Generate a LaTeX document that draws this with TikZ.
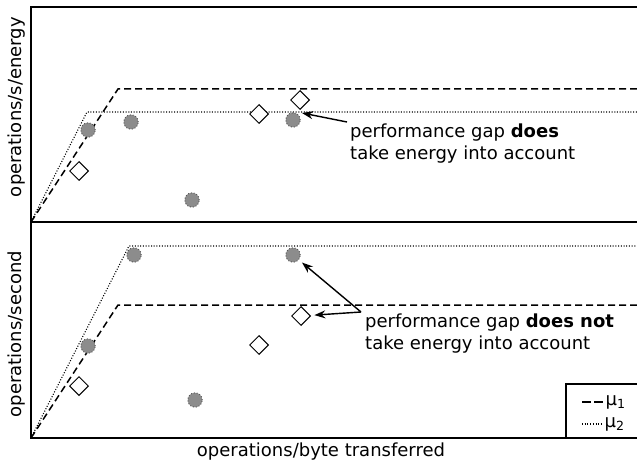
\documentclass[tikz,border=0pt]{standalone}
\usepackage{fontspec}
\setmainfont{DejaVu Sans}
\usetikzlibrary{arrows.meta,positioning,shapes.geometric}
\definecolor{ptfill}{HTML}{8C8C8C}
\definecolor{ptline}{HTML}{505050}

\begin{document}
\begin{tikzpicture}[x=1pt, y=-1pt, font=\fontsize{18}{21.7}\selectfont,
    frame/.style={line width=1.4pt},
    roofA/.style={line width=1.5pt, dash pattern=on 7pt off 4pt},
    roofB/.style={line width=1.1pt, dash pattern=on 1pt off 1.7pt},
    pt/.style={circle, fill=ptfill, draw=ptline, dotted, line width=0.9pt,
      minimum size=14.5pt, inner sep=0pt},
    dm/.style={diamond, draw, fill=white, line width=1pt,
      minimum size=19pt, inner sep=0pt},
    note/.style={align=left, inner sep=0pt, anchor=north west},
    gap/.style={-{Stealth[length=11pt,width=8pt]}, line width=1.4pt, shorten >=4pt}]
  \useasboundingbox (0,0) rectangle (637,465);

  % axes of both panels
  \draw[frame] (640,7) -- (31,7) -- (31,438) -- (640,438);
  \draw[frame] (31,222) -- (640,222);

  % rooflines, upper panel
  \draw[roofA] (31,222) -- (118,89) -- (640,89);
  \draw[roofB] (31,222) -- (87,112) -- (640,112);
  % rooflines, lower panel
  \draw[roofA] (31,438) -- (118,305) -- (640,305);
  \draw[roofB] (31,438) -- (129,246) -- (640,246);

  % measured points, upper panel
  \node[pt] (ua) at (88,130) {};
  \node[pt] (ub) at (131,122) {};
  \node[pt] (uc) at (192,200) {};
  \node[pt] (ud) at (293,120) {};
  \node[dm] (ue) at (79,171) {};
  \node[dm] (uf) at (259,114) {};
  \node[dm] (ug) at (300,100) {};
  \coordinate (ugap) at (302,113);

  % measured points, lower panel
  \node[pt] (la) at (88,346) {};
  \node[pt] (lb) at (134,255) {};
  \node[pt] (lc) at (195,400) {};
  \node[pt] (ld) at (293,255) {};
  \node[dm] (le) at (79,386) {};
  \node[dm] (lf) at (259,345) {};
  \node[dm] (lg) at (301,316) {};

  % notes on the gap
  \node[note] (noteA) at (350,124) {performance gap \textbf{does}\\take energy into account};
  \node[note] (noteB) at (365,314) {performance gap \textbf{does not}\\take energy into account};
  \draw[gap, shorten >=0pt] ([xshift=-3pt,yshift=2pt]noteA.north west) -- (ugap);
  \draw[gap] ([xshift=-4pt,yshift=2pt]noteB.north west) -- (ld);
  \draw[gap] ([xshift=-4pt,yshift=2pt]noteB.north west) -- (lg);

  % legend
  \draw[frame] (566,438) -- (566,384) -- (640,384);
  \draw[line width=1.4pt, dash pattern=on 9pt off 3pt] (582,402) -- (603,402)
    node[right, inner sep=2pt] (keyA) {μ\textsubscript{1}};
  \draw[roofB] (582,424) -- (602,424)
    node[right, inner sep=2pt] (keyB) {μ\textsubscript{2}};

  % axis labels
  \node (xlab) at (321,452) {operations/byte transferred};
  \node[rotate=90] (ylabA) at (17,107) {operations/s/energy};
  \node[rotate=90] (ylabB) at (17,334) {operations/second};
\end{tikzpicture}
\end{document}
